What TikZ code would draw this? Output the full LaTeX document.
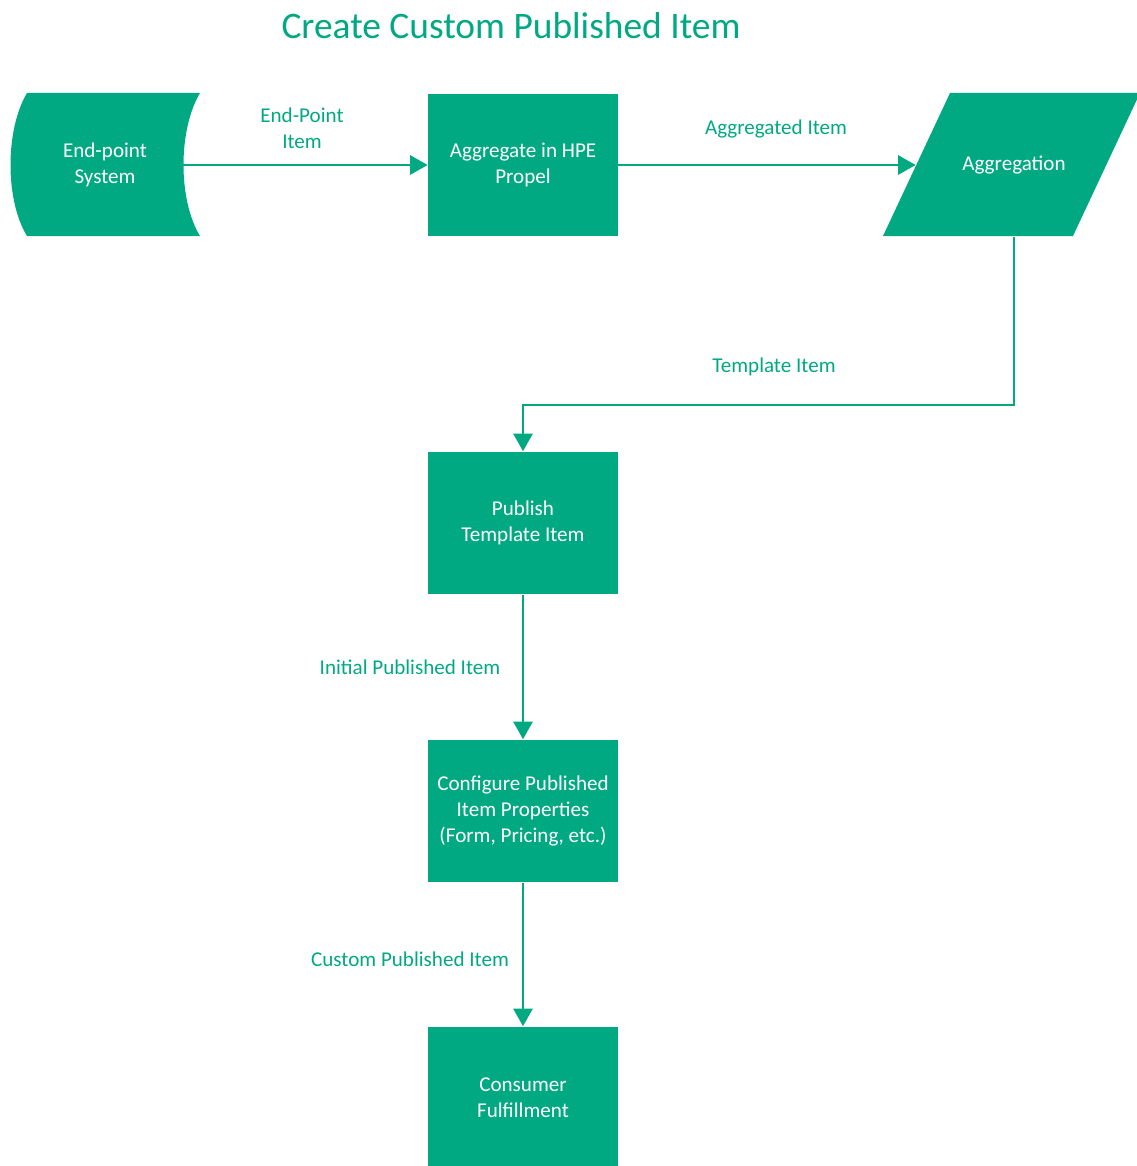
\documentclass[tikz,border=0pt]{standalone}
\usepackage{fontspec}
\setmainfont{Carlito}
\usetikzlibrary{arrows.meta,positioning}
\definecolor{hpegreen}{HTML}{01A982}

\begin{document}
\begin{tikzpicture}[x=0.02cm,y=-0.02cm,
	box/.style={fill=hpegreen,minimum width=3.8cm,minimum height=2.86cm,text=white,align=center,font=\fontsize{12}{14.7}\selectfont},
	lbl/.style={text=hpegreen,align=center,font=\fontsize{12}{14.7}\selectfont},
	flow/.style={hpegreen,line width=1.1pt,-{Triangle[length=10pt,width=11pt]}}]
	\useasboundingbox (0,0) rectangle (1136,1166);
	
	\node[text=hpegreen,font=\fontsize{21.3}{25}\selectfont] (title) at (511,26) {Create Custom Published Item};
	
	% end-point system and aggregation shapes
	\fill[hpegreen] (27,93) -- (200,93) .. controls (178,130) and (178,200) .. (200,236) -- (27,236) .. controls (5,200) and (5,130) .. (27,93);
	\fill[hpegreen] (950,93) -- (1140,93) -- (1073,236) -- (883,236) -- cycle;
	
	\node[lbl,text=white,minimum width=3.12cm,minimum height=2.86cm] (ep) at (105,165) {End-point\\System};
	\node[box] (agg) at (523,165) {Aggregate in HPE\\Propel};
	\node[lbl,text=white,minimum width=3.92cm,minimum height=2.86cm] (aggn) at (1014,165) {Aggregation};
	\node[box] (pub) at (523,523) {Publish\\Template Item};
	\node[box] (cfg) at (523,811) {Configure Published\\Item Properties\\(Form, Pricing, etc.)};
	\node[box] (cons) at (523,1098) {Consumer\\Fulfillment};
	
	% connectors
	\draw[flow] (ep.east) -- (agg.west);
	\draw[flow] (agg.east) -- (aggn.west);
	\draw[flow] (aggn.south) -- ++(0,168) -| (pub.north);
	\draw[flow] (pub.south) -- (cfg.north);
	\draw[flow] (cfg.south) -- (cons.north);
	
	\node[lbl] (epitem) at (302,128) {End-Point\\Item};
	\node[lbl] (aggitem) at (776,129) {Aggregated Item};
	\node[lbl] (tplitem) at (774,367) {Template Item};
	\node[lbl] (inititem) at (410,667) {Initial Published Item};
	\node[lbl] (custitem) at (410,959) {Custom Published Item};
\end{tikzpicture}
\end{document}
